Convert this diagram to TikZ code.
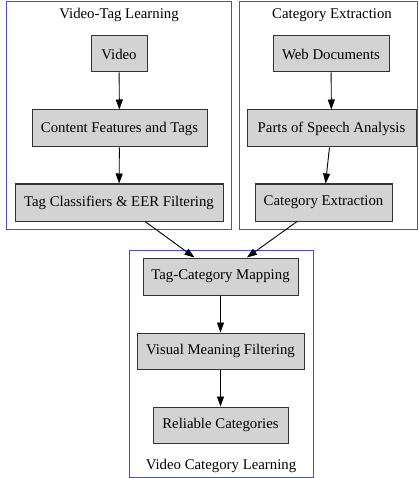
\documentclass[tikz,border=0pt]{standalone}
\usepackage{fontspec}
\setmainfont{Liberation Serif}
\usetikzlibrary{arrows.meta}
\begin{document}
\begin{tikzpicture}[x=1pt,y=-1pt,
  box/.style={draw=black!80,fill={rgb,255:red,211;green,211;blue,211},line width=1pt,inner sep=0pt,font=\fontsize{14.8}{17}\selectfont},
  cluster/.style={draw={rgb,255:red,70;green,70;blue,255},line width=1pt},
  clabel/.style={font=\fontsize{14.8}{17}\selectfont,inner sep=0pt},
  arr/.style={-{Triangle[length=10pt,width=7pt]},line width=0.9pt,black}]
\useasboundingbox (0,0) rectangle (419,478);
% clusters
\draw[cluster] (6,2) rectangle (231,229);
\draw[cluster] (239,2) rectangle (417,229);
\draw[cluster] (129,250) rectangle (313,477);
\node[clabel] (l1) at (119,15) {Video-Tag Learning};
\node[clabel] (l2) at (332,15) {Category Extraction};
\node[clabel] (l3) at (221,466) {Video Category Learning};
% nodes
\node[box,minimum width=56pt,minimum height=36pt] (video) at (119,54) {Video};
\node[box,minimum width=175pt,minimum height=37pt] (cft) at (119.5,128.5) {Content Features and Tags};
\node[box,minimum width=208pt,minimum height=37pt] (tc) at (119,202.5) {Tag Classifiers \& EER Filtering};
\node[box,minimum width=116pt,minimum height=36pt] (web) at (331,54) {Web Documents};
\node[box,minimum width=169pt,minimum height=37pt] (pos) at (331.5,128.5) {Parts of Speech Analysis};
\node[box,minimum width=137pt,minimum height=37pt] (cat) at (323.5,202.5) {Category Extraction};
\node[box,minimum width=155pt,minimum height=37pt] (map) at (220.5,276.5) {Tag-Category Mapping};
\node[box,minimum width=167pt,minimum height=36pt] (vmf) at (220.5,351) {Visual Meaning Filtering};
\node[box,minimum width=135pt,minimum height=36pt] (rel) at (220.5,425) {Reliable Categories};
% edges
\draw[arr] (video) -- (cft);
\draw[arr] (cft) -- (tc);
\draw[arr] (web) -- (pos);
\draw[arr] (pos) -- (cat);
\draw[arr] (tc) -- (map);
\draw[arr] (cat) -- (map);
\draw[arr] (map) -- (vmf);
\draw[arr] (vmf) -- (rel);
\end{tikzpicture}
\end{document}
